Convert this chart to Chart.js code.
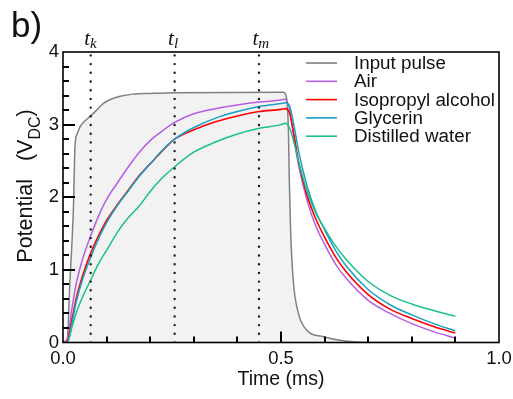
<!DOCTYPE html>
<html>
<head>
<meta charset="utf-8">
<script src="https://cdn.jsdelivr.net/npm/chart.js@4.4.0/dist/chart.umd.min.js"></script>
<style>
  html, body { margin: 0; padding: 0; background: #fff; }
</style>
</head>
<body>
<canvas id="c" width="513" height="399"></canvas>
<script>
// values: time in ms, potential in V
const pulseT = [0, 0.009, 0.016, 0.024, 0.0275, 0.033, 0.039, 0.05, 0.0635, 0.077, 0.092, 0.11, 0.131, 0.16, 0.2, 0.26,
                0.505, 0.511, 0.517, 0.519, 0.522, 0.528, 0.54, 0.559, 0.597, 0.642, 0.7, 0.9];
const pulseV = [0, 0, 0.86, 1.87, 2.7, 2.88, 2.97, 3.05, 3.12, 3.2, 3.29, 3.35, 3.39, 3.42, 3.43, 3.44,
                3.445, 3.41, 2.93, 2.24, 1.55, 0.86, 0.4, 0.17, 0.08, 0.025, 0, 0];

const sampleT = [0, 0.01, 0.02, 0.03, 0.045, 0.0635, 0.08, 0.1, 0.125, 0.15, 0.175, 0.2, 0.225, 0.256,
                 0.3, 0.35, 0.4, 0.45, 0.5, 0.51, 0.52, 0.53, 0.54, 0.56, 0.58, 0.6, 0.625, 0.65,
                 0.7, 0.75, 0.8, 0.85, 0.9];
const airV = [0, 0.05, 0.45, 0.8, 1.15, 1.47, 1.72, 1.97, 2.2, 2.42, 2.62, 2.78, 2.9, 3.03,
              3.15, 3.22, 3.27, 3.31, 3.34, 3.35, 3.2, 2.8, 2.45, 1.95, 1.6, 1.35, 1.08, 0.88,
              0.58, 0.4, 0.26, 0.15, 0.06];
const ipaV = [0, 0.02, 0.3, 0.6, 0.92, 1.23, 1.45, 1.68, 1.9, 2.1, 2.3, 2.46, 2.62, 2.8,
              2.93, 3.04, 3.12, 3.18, 3.21, 3.22, 3.15, 2.85, 2.5, 2.02, 1.7, 1.45, 1.18, 0.97,
              0.66, 0.46, 0.33, 0.22, 0.13];
const glyV = [0, 0, 0.25, 0.55, 0.87, 1.17, 1.41, 1.65, 1.89, 2.09, 2.29, 2.46, 2.63, 2.8,
              2.96, 3.09, 3.18, 3.25, 3.29, 3.30, 3.25, 2.98, 2.65, 2.15, 1.8, 1.55, 1.27, 1.05,
              0.73, 0.52, 0.38, 0.26, 0.16];
const waterV = [0, 0, 0.2, 0.4, 0.63, 0.86, 1.07, 1.27, 1.52, 1.72, 1.88, 2.08, 2.25, 2.42,
                2.62, 2.76, 2.87, 2.95, 3.0, 3.02, 2.95, 2.75, 2.5, 2.08, 1.78, 1.57, 1.33, 1.14,
                0.84, 0.65, 0.53, 0.44, 0.36];

const seriesNames = ['Input pulse', 'Air', 'Isopropyl alcohol', 'Glycerin', 'Distilled water'];
const seriesColors = ['#808080', '#b65ee3', '#ff0000', '#1b9fc6', '#19c08b'];

// marker times t_k, t_l, t_m
const markT = [0.0635, 0.256, 0.4495];
const markSub = ['k', 'l', 'm'];

// axis ticks (minor ones unlabeled)
const xTicks = [0, 0.1, 0.2, 0.3, 0.4, 0.5, 0.6, 0.7, 0.8, 0.9, 1.0];
const xMajor = [0, 0.5, 1.0];
const yTicks = [0, 0.2, 0.4, 0.6, 0.8, 1, 1.2, 1.4, 1.6, 1.8, 2, 2.2, 2.4, 2.6, 2.8, 3, 3.2, 3.4, 3.6, 3.8, 4];
const yMajor = [0, 1, 2, 3, 4];

const SANS = '"Liberation Sans", Arial, Helvetica, sans-serif';
const SERIF = '"Liberation Serif", "Times New Roman", serif';

const pts = (ts, vs) => ts.map((t, i) => ({ x: t, y: vs[i] }));
const isIn = (arr, v) => arr.some(m => Math.abs(m - v) < 1e-6);

const datasets = [
  {
    label: seriesNames[0], data: pts(pulseT, pulseV),
    borderColor: seriesColors[0], borderWidth: 1.5,
    fill: 'origin', backgroundColor: '#f2f2f2', order: 5
  },
  { label: seriesNames[1], data: pts(sampleT, airV), borderColor: seriesColors[1], borderWidth: 1.5, order: 4 },
  { label: seriesNames[2], data: pts(sampleT, ipaV), borderColor: seriesColors[2], borderWidth: 1.6, order: 3 },
  { label: seriesNames[3], data: pts(sampleT, glyV), borderColor: seriesColors[3], borderWidth: 1.5, order: 2 },
  { label: seriesNames[4], data: pts(sampleT, waterV), borderColor: seriesColors[4], borderWidth: 1.5, order: 1 }
];
markT.forEach(t => {
  datasets.push({
    label: 'mark', data: [{ x: t, y: 0 }, { x: t, y: 4 }],
    borderColor: '#1a1a1a', borderWidth: 2.4, borderDash: [0, 8.7],
    borderCapStyle: 'round', cubicInterpolationMode: 'default', tension: 0, order: -1
  });
});

// frame, inward ticks, legend and the free text
const decor = {
  id: 'decor',
  afterDraw(chart) {
    const ctx = chart.ctx;
    const a = chart.chartArea;
    const x = chart.scales.x, y = chart.scales.y;
    ctx.save();
    ctx.setLineDash([]);
    ctx.lineWidth = 1.6;
    ctx.strokeStyle = '#000';
    ctx.strokeRect(a.left, a.top, a.right - a.left, a.bottom - a.top);

    // tick marks pointing into the plot, as solid rectangles
    ctx.fillStyle = '#000';
    for (let i = 1; i < xTicks.length - 1; i++) {
      const v = xTicks[i];
      const px = Math.round(x.getPixelForValue(v));
      const len = isIn(xMajor, v) ? 11 : 6;
      ctx.fillRect(px - 1, a.bottom - len, 2, len);
    }
    for (let i = 1; i < yTicks.length - 1; i++) {
      const v = yTicks[i];
      const py = Math.round(y.getPixelForValue(v));
      const len = isIn(yMajor, v) ? 12 : 6;
      ctx.fillRect(a.left, py - 1, len, 2);
    }

    // legend
    ctx.font = '18.8px ' + SANS;
    ctx.textBaseline = 'middle';
    ctx.textAlign = 'left';
    seriesNames.forEach((name, i) => {
      const ly = 63 + i * 18.3;
      ctx.strokeStyle = seriesColors[i];
      ctx.lineWidth = 1.6;
      ctx.beginPath();
      ctx.moveTo(306, ly);
      ctx.lineTo(337, ly);
      ctx.stroke();
      ctx.fillStyle = '#111';
      ctx.fillText(name, 354, ly + 1);
    });

    // t_k, t_l, t_m
    ctx.textBaseline = 'alphabetic';
    markT.forEach((t, i) => {
      const px = x.getPixelForValue(t);
      ctx.font = 'italic 21px ' + SERIF;
      ctx.fillText('t', px - 6.5, 45);
      const w = ctx.measureText('t').width;
      ctx.font = 'italic 15px ' + SERIF;
      ctx.fillText(markSub[i], px - 6.5 + w, 48);
    });

    // panel label
    ctx.font = '35px ' + SANS;
    ctx.fillText('b)', 11, 37);

    // x title
    ctx.font = '19.5px ' + SANS;
    ctx.textAlign = 'center';
    ctx.textBaseline = 'middle';
    ctx.fillText('Time (ms)', (a.left + a.right) / 2, 380);

    // y title with subscript
    ctx.translate(32, 186);
    ctx.rotate(-Math.PI / 2);
    ctx.textAlign = 'left';
    ctx.textBaseline = 'alphabetic';
    const main = 'Potential   (V';
    ctx.font = '21.5px ' + SANS;
    const w1 = ctx.measureText(main).width;
    const w3 = ctx.measureText(')').width;
    ctx.font = '16px ' + SANS;
    const w2 = ctx.measureText('DC').width;
    let cx = -(w1 + w2 + w3) / 2;
    ctx.font = '21.5px ' + SANS;
    ctx.fillText(main, cx, 0);
    cx += w1;
    ctx.font = '16px ' + SANS;
    ctx.fillText('DC', cx, 8);
    cx += w2;
    ctx.font = '21.5px ' + SANS;
    ctx.fillText(')', cx, 0);
    ctx.restore();
  }
};

new Chart(document.getElementById('c'), {
  type: 'line',
  data: { datasets },
  options: {
    responsive: false,
    animation: false,
    devicePixelRatio: 1,
    layout: { autoPadding: false, padding: { top: 52, right: 14, left: 0, bottom: 0 } },
    elements: { point: { radius: 0 }, line: { cubicInterpolationMode: 'monotone' } },
    plugins: {
      legend: { display: false },
      tooltip: { enabled: false },
      filler: { drawTime: 'beforeDatasetsDraw' }
    },
    scales: {
      x: {
        type: 'linear', min: 0, max: 1,
        grid: { display: false, drawTicks: false },
        border: { display: false },
        afterFit: s => { s.height = 56.5; s.paddingLeft = 0; s.paddingRight = 0; },
        afterBuildTicks: s => { s.ticks = xTicks.map(v => ({ value: v })); },
        ticks: {
          autoSkip: false, maxRotation: 0, padding: 5,
          color: '#111', font: { size: 18.5, family: SANS },
          callback: v => isIn(xMajor, v) ? v.toFixed(1) : ''
        }
      },
      y: {
        min: 0, max: 4,
        grid: { display: false, drawTicks: false },
        border: { display: false },
        afterFit: s => { s.width = 63; s.paddingTop = 0; s.paddingBottom = 0; },
        afterBuildTicks: s => { s.ticks = yTicks.map(v => ({ value: v })); },
        ticks: {
          autoSkip: false, padding: 4,
          color: '#111', font: { size: 18.5, family: SANS },
          callback: v => isIn(yMajor, v) ? String(v) : ''
        }
      }
    }
  },
  plugins: [decor]
});
</script>
</body>
</html>
